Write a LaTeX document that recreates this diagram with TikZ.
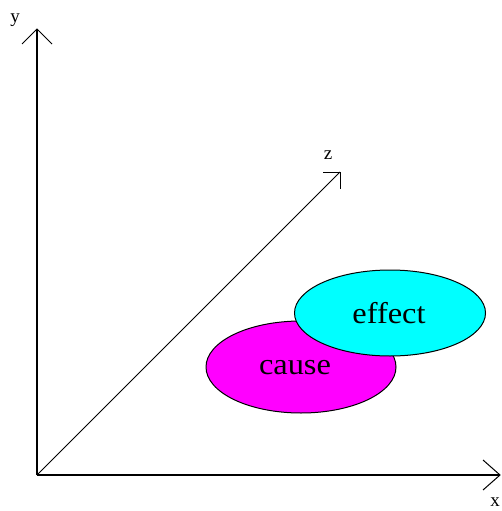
\documentclass[tikz,border=0pt]{standalone}
\usepackage{fontspec}
\setmainfont{Liberation Serif}
\usetikzlibrary{shapes.geometric}
\definecolor{mag}{RGB}{255,0,255}
\definecolor{cyn}{RGB}{0,255,255}
\begin{document}
\begin{tikzpicture}[x=1pt,y=-1pt,
  axis/.style={line width=1.6pt,black},
  thin axis/.style={line width=0.9pt,black},
  head/.style={line width=1pt,black},
  blob/.style={ellipse,draw=black,line width=1pt,inner sep=0pt},
  lbl/.style={font=\fontsize{19}{19}\selectfont,inner sep=0pt},
  big/.style={font=\fontsize{30}{30}\selectfont,inner sep=0pt,xscale=1.08}]
\useasboundingbox (0,0) rectangle (502,511);
\fill[white] (0,0) rectangle (502,511);
\coordinate (O) at (37,475);
\coordinate (Y) at (37,29);
\coordinate (X) at (500,475);
\coordinate (Z) at (340,172);
\draw[axis] (O) -- (Y);
\draw[axis] (O) -- (X);
\draw[thin axis] (O) -- (Z);
\coordinate (ya) at (22,44); \coordinate (yb) at (52,44);
\draw[head] (ya) -- (Y) -- (yb);
\coordinate (xa) at (483,460); \coordinate (xb) at (483,490);
\draw[head] (xa) -- (X) -- (xb);
\coordinate (za) at (323,172); \coordinate (zb) at (340,189);
\draw[head] (za) -- (Z) -- (zb);
\node[lbl] (ylab) at (15,20) {y};
\node[lbl] (zlab) at (328,155) {z};
\node[lbl] (xlab) at (495,502) {x};
\node[blob,fill=mag,minimum width=190pt,minimum height=92pt] (cause) at (301,367) {};
\node[blob,fill=cyn,minimum width=191pt,minimum height=86pt] (effect) at (390,313) {};
\node[big] (ct) at (295,368) {cause};
\node[big] (et) at (389,313) {effect};
\end{tikzpicture}
\end{document}
